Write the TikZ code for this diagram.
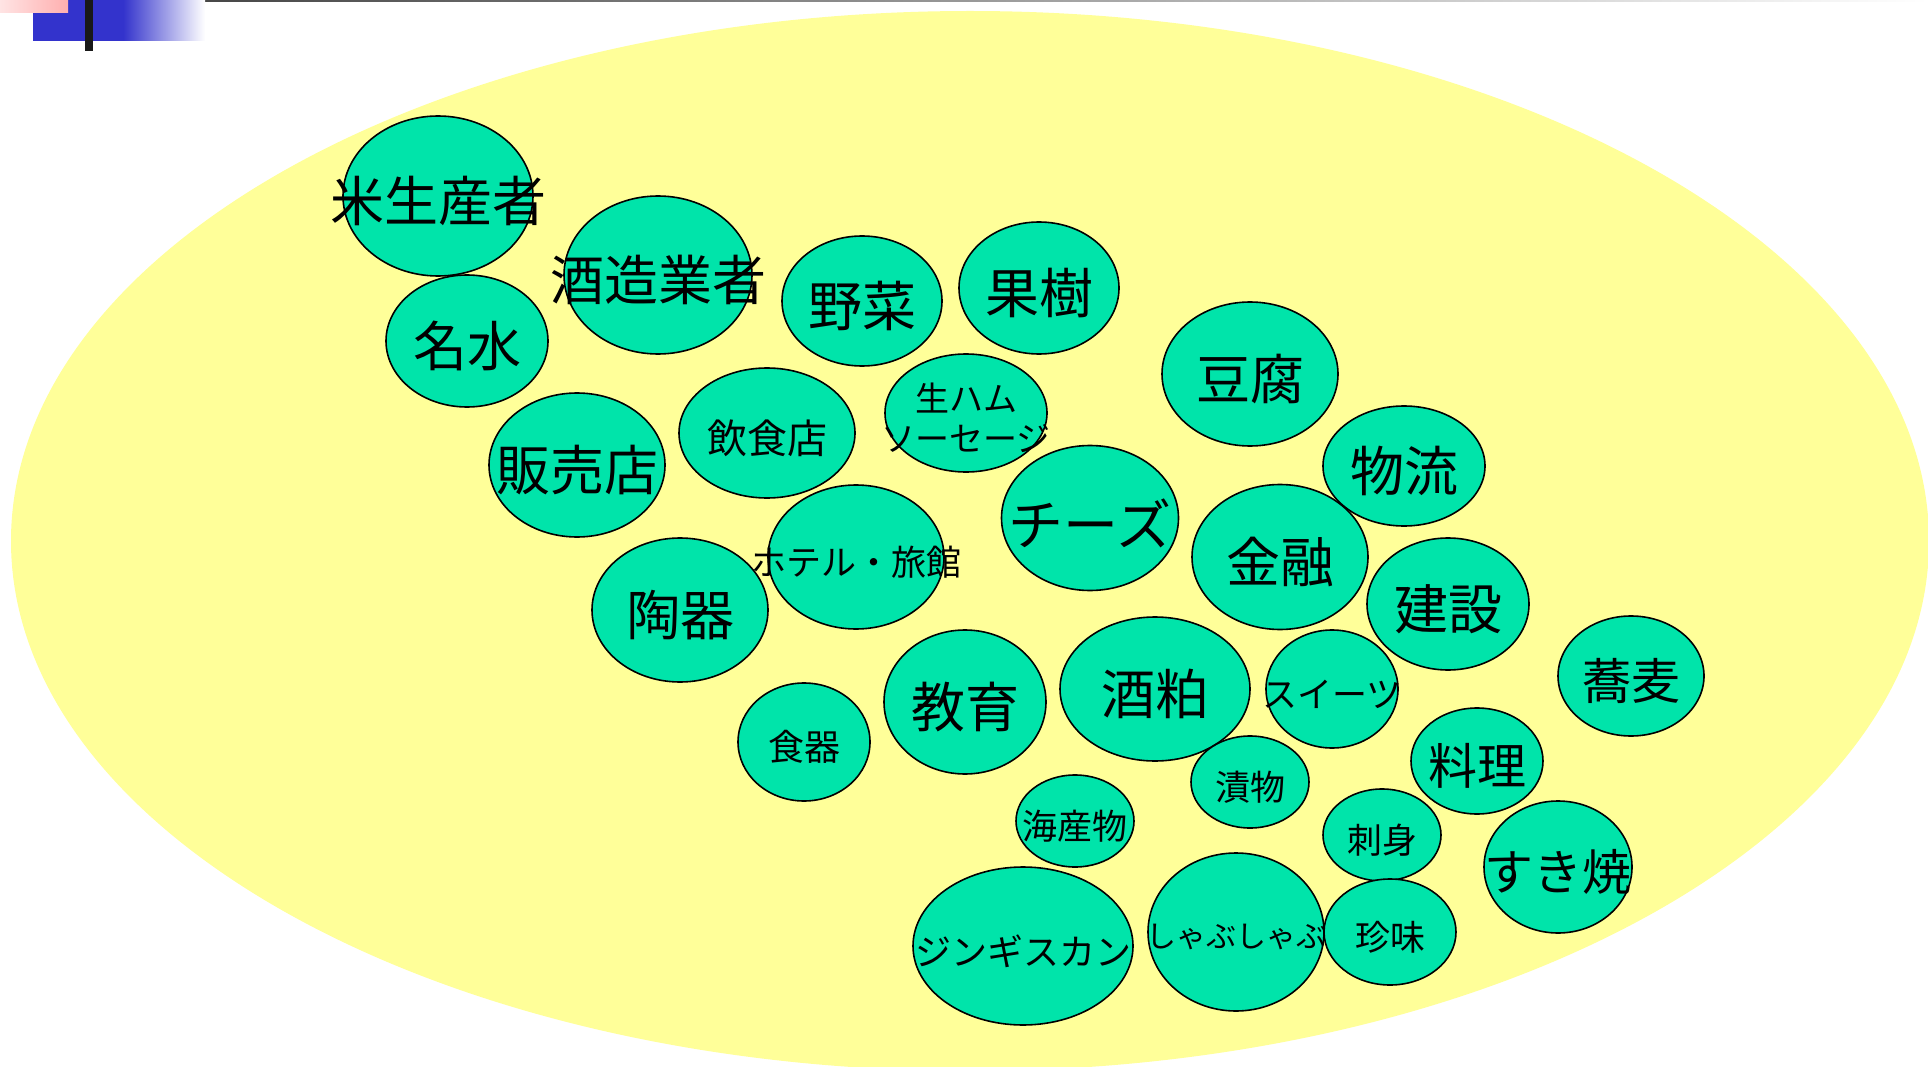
\documentclass[tikz,border=0pt]{standalone}
\usepackage{fontspec}
\newfontfamily\jp{Noto Sans CJK JP}
\usetikzlibrary{shapes.geometric}
\definecolor{bubfill}{RGB}{0,228,170}
\definecolor{bgyellow}{RGB}{255,255,153}
\definecolor{decoblue}{RGB}{51,51,204}
\definecolor{pinkA}{RGB}{255,228,228}
\definecolor{pinkB}{RGB}{255,175,175}
\definecolor{topline}{RGB}{50,50,50}
\pgfdeclarelayer{back}
\pgfdeclarelayer{bub}
\pgfsetlayers{back,bub,main}
\tikzset{
  bubble/.style={ellipse, draw=black, line width=1.6pt, fill=bubfill, inner sep=0pt},
  lbl/.style={inner sep=0pt, text=black, align=center, yshift=-5pt},
}
\newcommand{\bubl}[7]{%
  \begin{pgfonlayer}{bub}
  \node[bubble, minimum width=#4pt, minimum height=#5pt] (#1) at (#2,#3) {};
  \end{pgfonlayer}
  \node[lbl, font={\jp\fontsize{#6}{#6}\selectfont}] (#1t) at (#1.center) {#7};
}
\begin{document}
\begin{tikzpicture}[x=1pt,y=-1pt]
\useasboundingbox (0,0) rectangle (1928,1067);
\begin{pgfonlayer}{back}
  \fill[white] (0,0) rectangle (1928,1067);
  \fill[bgyellow] (970,541) ellipse [x radius=959pt, y radius=530pt];
  % top decoration
  \shade[left color=topline, right color=white] (9,0) rectangle (1928,2);
  \fill[decoblue] (33,0) rectangle (124,41);
  \shade[left color=decoblue, right color=white] (123,0) rectangle (205,41);
  \shade[left color=pinkA, right color=pinkB] (0,0) rectangle (68,13);
  \fill[black!90] (85,0) rectangle (93,51);
\end{pgfonlayer}

\bubl{rice}{438}{196}{190}{160}{54}{米生産者}
\bubl{sake}{658}{275}{188}{158}{54}{酒造業者}
\bubl{water}{467}{341}{162}{132}{54}{名水}
\bubl{veg}{862}{301}{160}{130}{54}{野菜}
\bubl{fruit}{1039}{288}{160}{132}{54}{果樹}
\bubl{tofu}{1250}{374}{176}{144}{54}{豆腐}
\bubl{logi}{1404}{466}{162}{120}{54}{物流}
\begin{pgfonlayer}{bub}
\node[bubble, minimum width=162pt, minimum height=118pt] (ham) at (966,413) {};
\end{pgfonlayer}
\node[lbl, font={\jp\fontsize{34}{40}\selectfont}] (hamt) at (ham.center) {生ハム\\ソーセージ};
\bubl{cheese}{1090}{518}{177}{145}{55}{チーズ}
\bubl{fin}{1280}{557}{176}{145}{54}{金融}
\bubl{hotel}{856}{557}{176}{144}{35}{ホテル・旅館}
\bubl{rest}{767}{433}{176}{130}{40}{飲食店}
\bubl{shop}{577}{465}{176}{144}{54}{販売店}
\bubl{pot}{680}{610}{176}{144}{54}{陶器}
\bubl{dish}{804}{742}{132}{118}{36}{食器}
\bubl{edu}{965}{702}{162}{144}{54}{教育}
\bubl{kasu}{1155}{689}{190}{144}{54}{酒粕}
\bubl{sweet}{1332}{689}{132}{118}{35}{スイーツ}
\bubl{build}{1448}{604}{162}{132}{54}{建設}
\bubl{soba}{1631}{676}{146}{120}{49}{蕎麦}
\bubl{cook}{1477}{761}{132}{106}{49}{料理}
\bubl{pickle}{1250}{782}{118}{92}{35}{漬物}
\bubl{sashimi}{1382}{835}{118}{92}{35}{刺身}
\bubl{suki}{1558}{867}{148}{132}{49}{すき焼}
\bubl{sea}{1075}{821}{118}{92}{35}{海産物}
\bubl{jing}{1023}{946}{220}{158}{36}{ジンギスカン}
\bubl{shabu}{1236}{932}{176}{158}{30}{しゃぶしゃぶ}
\bubl{chin}{1390}{932}{132}{106}{35}{珍味}
\end{tikzpicture}
\end{document}
